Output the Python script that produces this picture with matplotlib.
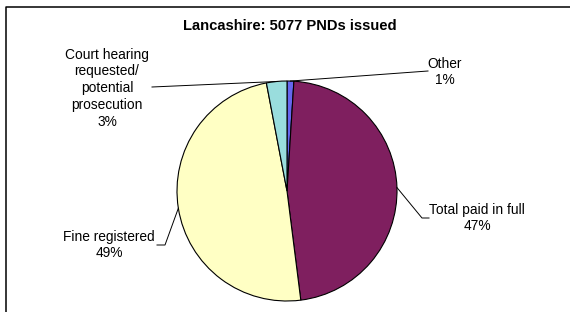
import numpy as np
import matplotlib
matplotlib.use("Agg")
import matplotlib.pyplot as plt

title = "Lancashire: 5077 PNDs issued"
categories = ["Other", "Total paid in full", "Fine registered",
              "Court hearing\nrequested/\npotential\nprosecution"]
values = [1, 47, 49, 3]
colors = ["#6666EE", "#7F1F5F", "#FFFFC4", "#99DDDD"]

plt.rcParams['font.family'] = ['Liberation Sans', 'DejaVu Sans']

W, H = 570, 312
fig = plt.figure(figsize=(W / 100, H / 100), dpi=100)
ax = fig.add_axes([0, 0, 1, 1])

cx, cy, r = 287, H - 191, 110
wedges, _ = ax.pie(values, colors=colors, startangle=90, counterclock=False,
                   center=(cx, cy), radius=r,
                   wedgeprops=dict(edgecolor="black", linewidth=0.8))
ax.set_xlim(0, W)
ax.set_ylim(0, H)
ax.set_aspect("equal")
ax.axis("off")

# label layout (pixel coords, y from top): text center, leader path points
layout = [
    dict(text=(445, 72), path=[(428, 71)]),
    dict(text=(477, 218), path=[(422, 218), (429, 218)]),
    dict(text=(109, 245), path=[(165, 245), (157, 245)]),
    dict(text=(107, 88), path=[(152, 87)]),
]

total = sum(values)
for w, cat, v, lay in zip(wedges, categories, values, layout):
    mid = np.deg2rad((w.theta1 + w.theta2) / 2)
    ax_pt = (cx + r * np.cos(mid), cy + r * np.sin(mid))
    pts = [ax_pt] + [(x, H - y) for x, y in lay["path"]]
    xs, ys = zip(*pts)
    ax.plot(xs, ys, color="black", linewidth=0.7)
    pct = round(100 * v / total)
    tx, ty = lay["text"]
    ax.text(tx, H - ty, f"{cat}\n{pct}%", ha="center", va="center",
            fontsize=9.9, linespacing=1.25)

ax.text(290, H - 26, title, ha="center", va="center", fontsize=10.6,
        fontweight="bold")

# chart border (extends past right/bottom)
ax.plot([5.5, 5.5, W + 5], [-5, H - 7, H - 7], color="black", linewidth=1.1,
        clip_on=False)

fig.savefig("out.png", dpi=100)
